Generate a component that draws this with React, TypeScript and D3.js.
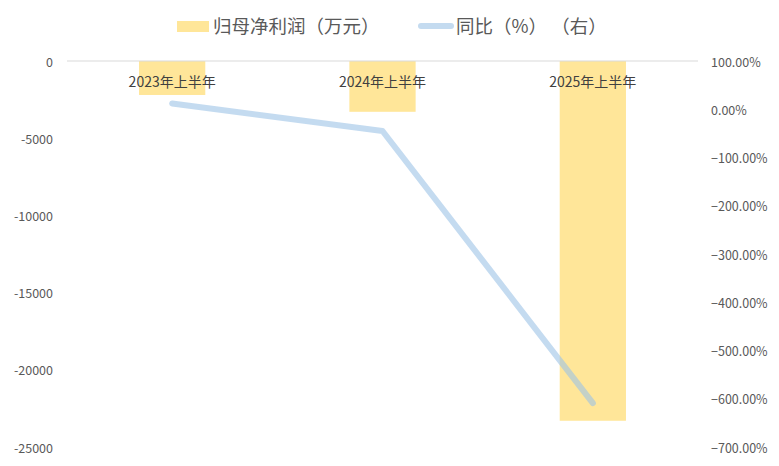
import React, { useEffect, useRef } from "react";
import * as d3 from "d3";

const categories = ["2023年上半年", "2024年上半年", "2025年上半年"];
const netProfit = [-2200, -3290, -23300]; // 归母净利润（万元）
const yoy = [12, -45, -609]; // 同比（%）
const leftTicks = [0, -5000, -10000, -15000, -20000, -25000];
const rightTicks = [100, 0, -100, -200, -300, -400, -500, -600, -700];

const barColor = "#FFE699";
const lineColor = "#9DC3E6";
const textColor = "#595959";
const font = "'Noto Sans CJK SC', 'Noto Sans', sans-serif";

export default function App() {
  const svgRef = useRef<SVGSVGElement>(null);

  useEffect(() => {
    const svg = d3.select(svgRef.current);
    svg.selectAll("*").remove();

    const width = 779;
    const height = 466;
    const margin = { top: 61, right: 81, bottom: 19, left: 67 };

    const x = d3.scaleBand<string>()
      .domain(categories)
      .range([margin.left, width - margin.right])
      .padding(0);

    const yLeft = d3.scaleLinear()
      .domain([-25000, 0])
      .range([height - margin.bottom, margin.top]);

    const yRight = d3.scaleLinear()
      .domain([-700, 100])
      .range([height - margin.bottom, margin.top]);

    const barW = x.bandwidth() * 0.315;

    // bars (hang down from zero line)
    svg.append("g")
      .selectAll("rect")
      .data(netProfit)
      .enter()
      .append("rect")
      .attr("x", (_, i) => x(categories[i])! + x.bandwidth() / 2 - barW / 2)
      .attr("y", yLeft(0))
      .attr("width", barW)
      .attr("height", (d) => yLeft(d) - yLeft(0))
      .attr("fill", barColor);

    // zero / category axis line
    svg.append("line")
      .attr("x1", margin.left)
      .attr("x2", width - margin.right)
      .attr("y1", yLeft(0))
      .attr("y2", yLeft(0))
      .attr("stroke", "#D9D9D9")
      .attr("stroke-width", 1);

    // category labels
    svg.append("g")
      .selectAll("text")
      .data(categories)
      .enter()
      .append("text")
      .attr("x", (d) => x(d)! + x.bandwidth() / 2)
      .attr("y", 81)
      .attr("text-anchor", "middle")
      .attr("dominant-baseline", "central")
      .attr("font-family", font)
      .attr("font-size", 14)
      .attr("fill", "#404040")
      .text((d) => d);

    // line (right axis)
    const line = d3.line<number>()
      .x((_, i) => x(categories[i])! + x.bandwidth() / 2)
      .y((d) => yRight(d));

    svg.append("path")
      .datum(yoy)
      .attr("d", line)
      .attr("fill", "none")
      .attr("stroke", lineColor)
      .attr("stroke-opacity", 0.6)
      .attr("stroke-width", 6)
      .attr("stroke-linecap", "round")
      .attr("stroke-linejoin", "round");

    // left axis labels
    svg.append("g")
      .selectAll("text")
      .data(leftTicks)
      .enter()
      .append("text")
      .attr("x", 53)
      .attr("y", (d) => yLeft(d))
      .attr("text-anchor", "end")
      .attr("dominant-baseline", "central")
      .attr("font-family", font)
      .attr("font-size", 12.5)
      .attr("fill", textColor)
      .text((d) => String(d));

    // right axis labels
    svg.append("g")
      .selectAll("text")
      .data(rightTicks)
      .enter()
      .append("text")
      .attr("x", 711)
      .attr("y", (d) => yRight(d))
      .attr("text-anchor", "start")
      .attr("dominant-baseline", "central")
      .attr("font-family", font)
      .attr("font-size", 12.5)
      .attr("fill", textColor)
      .text((d) => d3.format(".2f")(d) + "%");

    // legend
    const legend = svg.append("g").attr("font-family", font).attr("font-size", 18.5).attr("fill", textColor);
    legend.append("rect")
      .attr("x", 177).attr("y", 21).attr("width", 32).attr("height", 11)
      .attr("fill", barColor);
    legend.append("text")
      .attr("x", 213).attr("y", 25)
      .attr("dominant-baseline", "central")
      .text("归母净利润（万元）");
    legend.append("line")
      .attr("x1", 421).attr("x2", 451).attr("y1", 26).attr("y2", 26)
      .attr("stroke", lineColor)
      .attr("stroke-opacity", 0.6)
      .attr("stroke-width", 6)
      .attr("stroke-linecap", "round");
    legend.append("text")
      .attr("x", 456).attr("y", 25)
      .attr("dominant-baseline", "central")
      .attr("xml:space", "preserve")
      .style("white-space", "pre")
      .text("同比（%） （右）");
  }, []);

  return (
    <div style={{ background: "#fff" }}>
      <svg
        ref={svgRef}
        width="779"
        height="466"
        style={{ position: "absolute", left: 0, top: 0, background: "#fff" }}
      ></svg>
    </div>
  );
}
